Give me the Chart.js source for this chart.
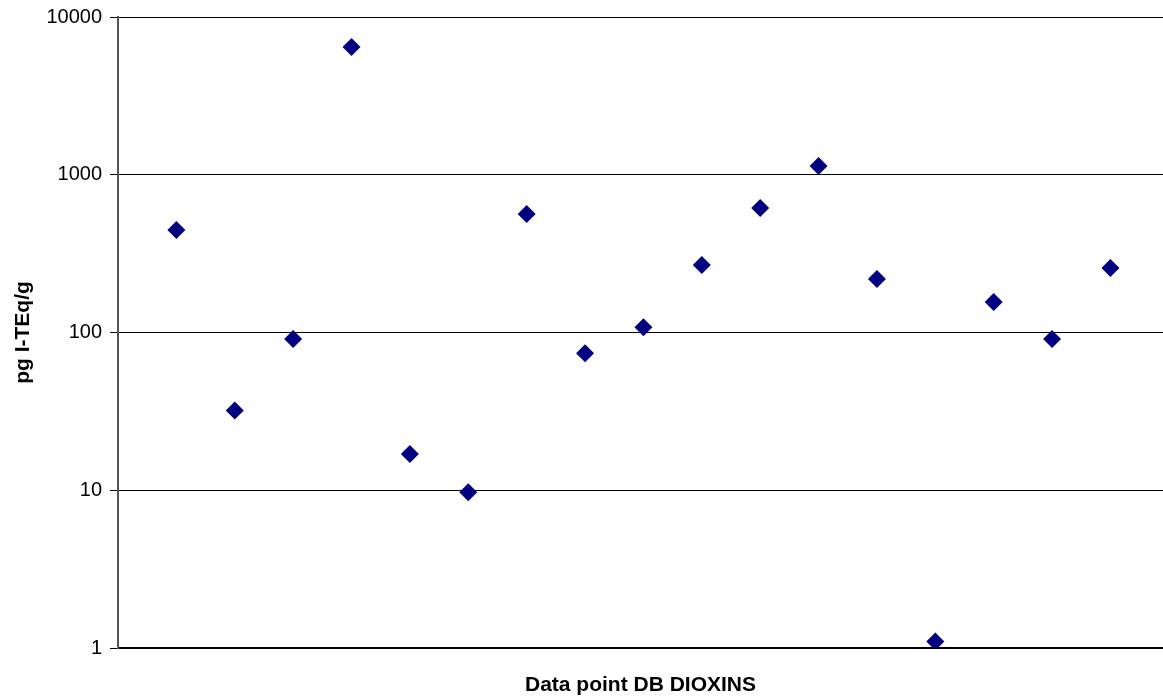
<!DOCTYPE html>
<html>
<head>
<meta charset="utf-8">
<script src="https://cdn.jsdelivr.net/npm/chart.js@4"></script>
<style>
  html, body { margin: 0; padding: 0; background: #fff; overflow: hidden; }
  #wrap { width: 1163px; height: 698px; }
</style>
</head>
<body>
<div id="wrap"><canvas id="dioxChart"></canvas></div>
<script>
// data point index and measured concentration (pg I-TEq/g)
const pointIndex = [1, 2, 3, 4, 5, 6, 7, 8, 9, 10, 11, 12, 13, 14, 15, 16, 17];
const teqValues = [447, 32, 91, 6450, 17, 9.7, 564, 74, 108, 268, 615, 1136, 218, 1.1, 156, 91, 256];
const yTicks = [1, 10, 100, 1000, 10000];

const points = pointIndex.map((x, i) => ({ x: x, y: teqValues[i] }));

new Chart(document.getElementById("dioxChart"), {
  type: "scatter",
  data: {
    datasets: [
      {
        label: "DIOXINS",
        data: points,
        pointStyle: "rectRot",
        pointRadius: 9,
        pointHoverRadius: 9,
        backgroundColor: "#000080",
        borderColor: "#000080",
        borderWidth: 0,
      },
    ],
  },
  options: {
    responsive: true,
    maintainAspectRatio: false,
    animation: false,
    layout: { autoPadding: false, padding: { top: 17, right: 0, left: 0, bottom: 0 } },
    plugins: {
      legend: { display: false },
      tooltip: { enabled: false },
    },
    scales: {
      x: {
        type: "linear",
        min: 0,
        max: 17.9,
        ticks: { display: false },
        grid: { display: false },
        border: { display: true, color: "#000", width: 2 },
        title: {
          display: true,
          text: "Data point DB DIOXINS",
          color: "#000",
          font: { family: "Liberation Sans, Arial", size: 21, weight: "bold" },
          padding: { top: 22, bottom: 0 },
        },
        afterFit: (scale) => {
          scale.height = 50;
          scale.paddingLeft = 0;
          scale.paddingRight = 0;
        },
      },
      y: {
        type: "logarithmic",
        min: 1,
        max: 10000,
        afterBuildTicks: (scale) => {
          scale.ticks = yTicks.map((v) => ({ value: v }));
        },
        ticks: {
          color: "#000",
          font: { family: "Liberation Sans, Arial", size: 20 },
          padding: 8,
          callback: (v) => String(v),
        },
        grid: { color: "#000", lineWidth: 1, tickLength: 8 },
        border: { display: true, color: "#555", width: 2 },
        title: {
          display: true,
          text: "pg I-TEq/g",
          color: "#000",
          font: { family: "Liberation Sans, Arial", size: 21, weight: "bold" },
          padding: { top: 11, bottom: 10 },
        },
        afterFit: (scale) => {
          scale.width = 118;
          scale.paddingTop = 0;
          scale.paddingBottom = 0;
        },
      },
    },
  },
});
</script>
</body>
</html>
